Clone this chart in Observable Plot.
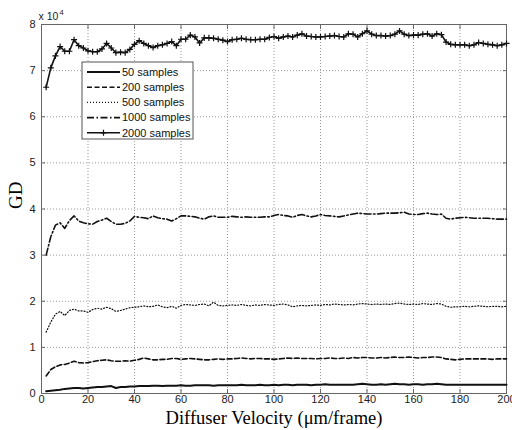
<!DOCTYPE html>
<html>
<head>
<meta charset="utf-8">
<script src="https://cdn.jsdelivr.net/npm/d3@7"></script>
<script src="https://cdn.jsdelivr.net/npm/@observablehq/plot@0.6"></script>
<style>
  html, body { margin: 0; padding: 0; background: #fff; }
  #chart { width: 512px; height: 430px; }
</style>
</head>
<body>
<div id="chart"></div>
<script>
// Diffuser velocity (µm/frame)
const velocity = [2,4,6,8,10,12,14,16,18,20,22,24,26,28,30,32,34,36,38,40,42,44,46,48,50,52,54,56,58,60,62,64,66,68,70,72,74,76,78,80,82,84,86,88,90,92,94,96,98,100,102,104,106,108,110,112,114,116,118,120,122,124,126,128,130,132,134,136,138,140,142,144,146,148,150,152,154,156,158,160,162,164,166,168,170,172,174,176,178,180,182,184,186,188,190,192,194,196,198,200];

// GD values in units of 10^4
const gd50 = [0.05,0.06,0.07,0.08,0.10,0.11,0.12,0.12,0.11,0.12,0.13,0.14,0.14,0.15,0.16,0.12,0.14,0.14,0.15,0.15,0.16,0.16,0.16,0.17,0.17,0.16,0.17,0.17,0.17,0.18,0.17,0.17,0.18,0.18,0.18,0.18,0.17,0.18,0.18,0.18,0.18,0.18,0.19,0.18,0.18,0.18,0.19,0.18,0.18,0.19,0.18,0.19,0.19,0.18,0.19,0.19,0.19,0.18,0.19,0.19,0.20,0.19,0.19,0.19,0.19,0.19,0.19,0.20,0.21,0.20,0.19,0.19,0.20,0.19,0.20,0.21,0.20,0.20,0.19,0.20,0.20,0.19,0.20,0.20,0.21,0.20,0.19,0.19,0.19,0.19,0.19,0.19,0.19,0.19,0.19,0.19,0.19,0.19,0.19,0.19];

const gd200 = [0.38,0.52,0.58,0.62,0.63,0.66,0.70,0.67,0.66,0.67,0.69,0.71,0.72,0.73,0.71,0.70,0.70,0.71,0.70,0.72,0.74,0.77,0.75,0.73,0.73,0.74,0.74,0.76,0.76,0.74,0.75,0.76,0.75,0.74,0.73,0.73,0.74,0.75,0.74,0.75,0.75,0.76,0.77,0.76,0.75,0.76,0.76,0.75,0.75,0.74,0.75,0.76,0.77,0.76,0.77,0.76,0.76,0.76,0.75,0.76,0.76,0.77,0.76,0.76,0.77,0.76,0.78,0.77,0.78,0.78,0.77,0.77,0.78,0.77,0.78,0.79,0.78,0.78,0.79,0.78,0.77,0.78,0.78,0.79,0.79,0.78,0.75,0.74,0.73,0.74,0.75,0.75,0.75,0.75,0.75,0.75,0.74,0.75,0.75,0.75];

const gd500 = [1.33,1.55,1.72,1.78,1.69,1.80,1.83,1.79,1.79,1.76,1.82,1.85,1.83,1.87,1.84,1.78,1.80,1.83,1.86,1.87,1.88,1.90,1.88,1.89,1.92,1.88,1.86,1.89,1.85,1.91,1.93,1.92,1.91,1.93,1.94,1.90,1.98,1.91,1.90,1.91,1.92,1.91,1.93,1.91,1.90,1.92,1.91,1.93,1.92,1.91,1.93,1.94,1.92,1.88,1.90,1.91,1.90,1.91,1.92,1.91,1.93,1.92,1.94,1.93,1.92,1.93,1.92,1.94,1.95,1.94,1.93,1.94,1.93,1.94,1.93,1.95,1.96,1.94,1.93,1.94,1.93,1.95,1.94,1.93,1.95,1.94,1.89,1.87,1.88,1.88,1.89,1.88,1.89,1.90,1.89,1.88,1.89,1.89,1.88,1.89];

const gd1000 = [3.00,3.40,3.65,3.70,3.58,3.75,3.85,3.74,3.70,3.68,3.67,3.73,3.76,3.80,3.73,3.67,3.67,3.69,3.74,3.84,3.82,3.81,3.79,3.85,3.81,3.79,3.78,3.74,3.79,3.85,3.85,3.84,3.83,3.80,3.78,3.83,3.85,3.82,3.82,3.82,3.84,3.83,3.82,3.83,3.82,3.82,3.82,3.83,3.83,3.86,3.88,3.86,3.85,3.82,3.86,3.88,3.85,3.83,3.85,3.88,3.86,3.85,3.84,3.83,3.85,3.87,3.89,3.91,3.90,3.89,3.89,3.89,3.90,3.91,3.91,3.91,3.92,3.93,3.89,3.88,3.88,3.90,3.91,3.89,3.88,3.89,3.80,3.78,3.80,3.81,3.82,3.81,3.80,3.80,3.80,3.80,3.79,3.78,3.78,3.78];

const gd2000 = [6.64,7.06,7.32,7.52,7.42,7.42,7.67,7.54,7.49,7.43,7.41,7.41,7.47,7.59,7.49,7.39,7.40,7.39,7.46,7.57,7.65,7.59,7.54,7.50,7.54,7.56,7.59,7.63,7.54,7.68,7.68,7.77,7.73,7.60,7.71,7.71,7.70,7.68,7.66,7.63,7.67,7.68,7.70,7.68,7.67,7.67,7.68,7.68,7.72,7.74,7.70,7.73,7.75,7.73,7.77,7.80,7.75,7.74,7.73,7.73,7.74,7.75,7.76,7.74,7.73,7.80,7.79,7.73,7.80,7.86,7.79,7.76,7.76,7.75,7.76,7.79,7.86,7.79,7.76,7.77,7.77,7.79,7.80,7.75,7.80,7.78,7.62,7.57,7.56,7.56,7.56,7.54,7.56,7.61,7.59,7.57,7.56,7.54,7.56,7.59];

const seriesNames = ["50 samples", "200 samples", "500 samples", "1000 samples", "2000 samples"];
const xTicks = [0,20,40,60,80,100,120,140,160,180,200];
const yTicks = [0,1,2,3,4,5,6,7,8];
const xTitle = "Diffuser Velocity (\u03bcm/frame)";
const yTitle = "GD";
const exponentBase = "x 10";
const exponentPower = "4";

const ink = "#111";
const styles = [
  {strokeWidth: 2, strokeDasharray: null},
  {strokeWidth: 1.6, strokeDasharray: "5,2.5"},
  {strokeWidth: 1.2, strokeDasharray: "1,2"},
  {strokeWidth: 1.6, strokeDasharray: "7,2.5,1.5,2.5"},
  {strokeWidth: 1.6, strokeDasharray: null}
];
const allSeries = [gd50, gd200, gd500, gd1000, gd2000];

const axisFont = "Liberation Sans, Arial, sans-serif";
const serifFont = "Liberation Serif, Times New Roman, serif";

const chart = Plot.plot({
  width: 512,
  height: 430,
  marginLeft: 41,
  marginRight: 6,
  marginTop: 24,
  marginBottom: 37,
  style: {fontFamily: axisFont, fontSize: "11px", color: "#222", background: "#fff", overflow: "visible"},
  x: {domain: [0, 200]},
  y: {domain: [0, 8]},
  marks: [
    Plot.gridX(xTicks, {stroke: "#999", strokeOpacity: 1, strokeDasharray: "1,2", strokeWidth: 1}),
    Plot.gridY(yTicks, {stroke: "#999", strokeOpacity: 1, strokeDasharray: "1,2", strokeWidth: 1}),
    Plot.frame({stroke: "#666"}),
    Plot.axisX(xTicks, {anchor: "bottom", tickSize: -4, tickPadding: 6, stroke: "#666", fill: "#222", label: null}),
    Plot.axisX(xTicks, {anchor: "top", tickSize: -4, stroke: "#666", tickFormat: () => "", label: null}),
    Plot.axisY(yTicks, {anchor: "left", tickSize: -4, tickPadding: 10, stroke: "#666", fill: "#222", label: null}),
    Plot.axisY(yTicks, {anchor: "right", tickSize: -4, stroke: "#666", tickFormat: () => "", label: null}),
    ...allSeries.map((s, i) => Plot.line(velocity, {
      x: velocity, y: s, stroke: ink,
      strokeWidth: styles[i].strokeWidth,
      strokeDasharray: styles[i].strokeDasharray,
      strokeLinejoin: "round"
    })),
    Plot.dot(velocity, {x: velocity, y: gd2000, symbol: "plus", r: 2.1, stroke: ink, strokeWidth: 1.2}),
    Plot.text([yTitle], {frameAnchor: "left", text: d => d, rotate: -90, dx: -26, fontFamily: serifFont, fontSize: 19, fill: "#000"}),
    Plot.text([xTitle], {frameAnchor: "bottom", text: d => d, dy: 30, lineAnchor: "bottom", fontFamily: serifFont, fontSize: 18.5, fill: "#000"}),
    Plot.text([exponentBase], {frameAnchor: "top-left", text: d => d, dx: -3, dy: -5, lineAnchor: "bottom", textAnchor: "start", fontSize: 10.5, fill: "#222"}),
    Plot.text([exponentPower], {frameAnchor: "top-left", text: d => d, dx: 18, dy: -10, lineAnchor: "bottom", textAnchor: "start", fontSize: 7.5, fill: "#222"})
  ]
});

// Legend (drawn into the same SVG)
const svg = d3.select(chart);
const lg = svg.append("g").attr("font-family", axisFont).attr("font-size", 11).attr("text-anchor", "start");
const box = {x: 82, y: 62, w: 111, h: 77};
lg.append("rect").attr("x", box.x).attr("y", box.y).attr("width", box.w).attr("height", box.h)
  .attr("fill", "#fff").attr("stroke", "#555").attr("stroke-width", 1);
seriesNames.forEach((name, i) => {
  const yy = box.y + 10 + i * 15.2;
  lg.append("line").attr("x1", box.x + 5).attr("x2", box.x + 38).attr("y1", yy).attr("y2", yy)
    .attr("stroke", ink).attr("stroke-width", styles[i].strokeWidth)
    .attr("stroke-dasharray", styles[i].strokeDasharray);
  if (i === 4) {
    const cx = box.x + 21.5;
    lg.append("path").attr("d", `M${cx - 3},${yy}h6M${cx},${yy - 3}v6`).attr("stroke", ink).attr("stroke-width", 1.2);
  }
  lg.append("text").attr("x", box.x + 40).attr("y", yy).attr("dy", "0.35em").attr("text-anchor", "start").attr("fill", "#111").text(name);
});

document.getElementById("chart").appendChild(chart);
</script>
</body>
</html>
